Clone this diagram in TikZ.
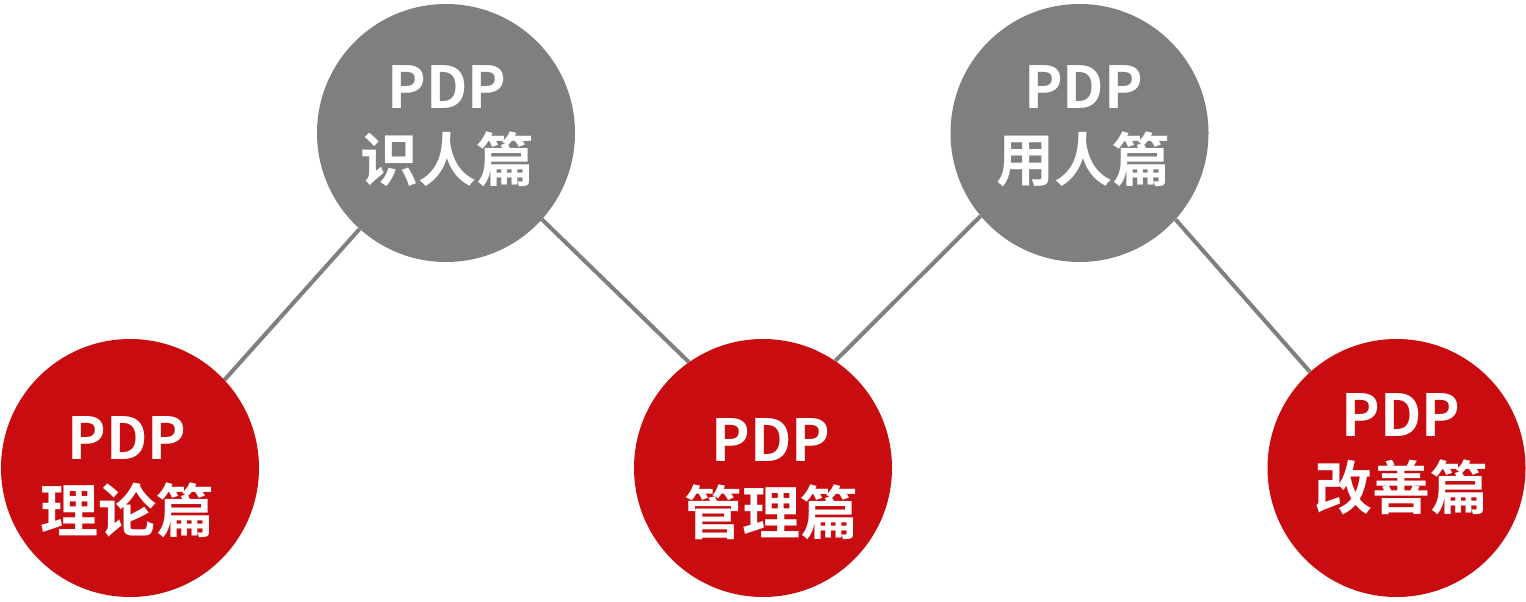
\documentclass[tikz,border=0pt]{standalone}
\usepackage{fontspec}
\usetikzlibrary{backgrounds}
\newfontfamily\cjk{Noto Sans CJK SC}[BoldFont={Noto Sans CJK SC Bold}]
\definecolor{cgray}{RGB}{127,127,127}
\definecolor{cred}{RGB}{200,12,15}
\tikzset{
  circ/.style={circle, minimum size=258pt, inner sep=0pt, draw=none},
  graycirc/.style={circ, fill=cgray},
  redcirc/.style={circ, fill=cred},
  link/.style={draw=cgray, line width=4pt},
  lbl/.style={text=white, inner sep=0pt, align=center, font=\cjk\bfseries\fontsize{58}{73}\selectfont}
}
\begin{document}
\begin{tikzpicture}[x=1pt,y=1pt]
\useasboundingbox (0,0) rectangle (1526,-602);
% circles
\node[graycirc] (g1) at (446,-133) {};
\node[graycirc] (g2) at (1079.5,-133) {};
\node[redcirc] (r1) at (130,-468) {};
\node[redcirc] (r2) at (763,-468) {};
\node[redcirc] (r3) at (1396.5,-468) {};
% connectors, behind the circles
\begin{scope}[on background layer]
\draw[link] (g1.228) -- (r1.43);
\draw[link] (g1.318) -- (r2.125);
\draw[link] (g2.220) -- (r2.56);
\draw[link] (g2.318) -- (r3.132);
\end{scope}
% labels
\node[lbl] (t1) at (447,-126) {PDP\\识人篇};
\node[lbl] (t2) at (1083.5,-126.5) {PDP\\用人篇};
\node[lbl] (t3) at (127,-477.5) {PDP\\理论篇};
\node[lbl] (t4) at (771,-479) {PDP\\管理篇};
\node[lbl] (t5) at (1401,-454) {PDP\\改善篇};
\end{tikzpicture}
\end{document}
